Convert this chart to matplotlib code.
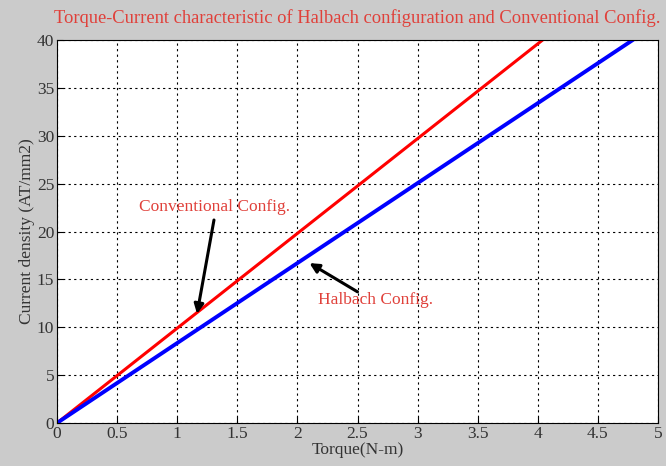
import matplotlib
matplotlib.use("Agg")
import matplotlib.pyplot as plt

# data
torque_conv = [0.0, 4.04]
current_conv = [0.0, 40.0]
torque_halb = [0.0, 4.79]
current_halb = [0.0, 40.0]
x_ticks = [0, 0.5, 1, 1.5, 2, 2.5, 3, 3.5, 4, 4.5, 5]
y_ticks = [0, 5, 10, 15, 20, 25, 30, 35, 40]

TEXT_RED = "#e0403a"
ARROW = dict(arrowstyle="-|>", color="black", lw=2.2, mutation_scale=14, shrinkA=0, shrinkB=0)

plt.rcParams["font.family"] = ["Liberation Serif", "DejaVu Serif"]

fig = plt.figure(figsize=(6.66, 4.66), dpi=100)
fig.patch.set_facecolor("#cbcbcb")
ax = fig.add_axes([57 / 666, 43 / 466, 601 / 666, 383 / 466])
ax.set_facecolor("white")

ax.plot(torque_conv, current_conv, color="#ff0000", linewidth=2.2)
ax.plot(torque_halb, current_halb, color="#0000ff", linewidth=2.8)

ax.set_xlim(0, 5)
ax.set_ylim(0, 40)
ax.set_xticks(x_ticks)
ax.set_xticklabels([f"{t:g}" for t in x_ticks])
ax.set_yticks(y_ticks)
ax.tick_params(labelsize=12.5, direction="in", length=4, pad=2, labelcolor="#333333")
ax.grid(True, linestyle=(0, (2, 3)), color="black", linewidth=0.8)
for s in ax.spines.values():
    s.set_linewidth(0.8)

ax.set_xlabel("Torque(N-m)", fontsize=12.5, labelpad=0, color="#333333")
ax.set_ylabel("Current density (AT/mm2)", fontsize=12.5, labelpad=1, color="#333333")
ax.set_title("Torque-Current characteristic of Halbach configuration and Conventional Config.",
             fontsize=13.3, color=TEXT_RED, pad=12, x=0.5)

# arrows and their labels
ax.annotate("", xy=(1.165, 11.4), xytext=(1.306, 21.2), arrowprops=ARROW)
ax.text(1.31, 22.6, "Conventional Config.", ha="center", va="center", fontsize=12.5, color=TEXT_RED)
ax.annotate("", xy=(2.10, 16.7), xytext=(2.50, 13.7), arrowprops=ARROW)
ax.text(2.65, 12.8, "Halbach Config.", ha="center", va="center", fontsize=12.5, color=TEXT_RED)

fig.savefig("out.png", dpi=100, facecolor=fig.get_facecolor())
